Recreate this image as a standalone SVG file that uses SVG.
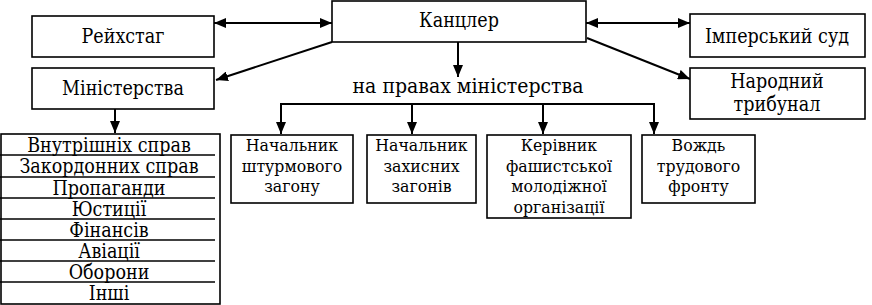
<svg xmlns="http://www.w3.org/2000/svg" width="872" height="305" viewBox="0 0 872 305">
<style>
rect.b{fill:#fff;stroke:#000;stroke-width:1.6}
text{font-family:"DejaVu Serif Condensed","DejaVu Serif",serif;font-stretch:condensed;font-size:19.5px;fill:#000;text-anchor:middle}
text.big{font-size:21px}
text.m{font-size:17.5px}
.c line{stroke:#000;stroke-width:2;fill:none}
.row{stroke:#000;stroke-width:1.5}
</style>
<defs>
<marker id="ah" viewBox="0 0 12 10" refX="12" refY="5" markerWidth="12" markerHeight="10" markerUnits="userSpaceOnUse" orient="auto-start-reverse">
<path d="M0,0 L12,5 L0,10 z" fill="#000"/>
</marker>
</defs>
<rect width="872" height="305" fill="#fff"/>
<g class="c" id="connectors">
<line x1="214" y1="23" x2="332" y2="23" marker-start="url(#ah)" marker-end="url(#ah)"/>
<line x1="586" y1="23" x2="690" y2="23" marker-start="url(#ah)" marker-end="url(#ah)"/>
<line x1="332" y1="42" x2="216" y2="80" marker-end="url(#ah)"/>
<line x1="587" y1="38" x2="690" y2="79" marker-end="url(#ah)"/>
<line x1="458" y1="42" x2="458" y2="77" marker-end="url(#ah)"/>
<line x1="115" y1="109" x2="115" y2="133" marker-end="url(#ah)"/>
<line x1="280" y1="104" x2="655" y2="104"/>
<line x1="281" y1="103" x2="281" y2="134" marker-end="url(#ah)"/>
<line x1="412" y1="103" x2="412" y2="134" marker-end="url(#ah)"/>
<line x1="543" y1="103" x2="543" y2="134" marker-end="url(#ah)"/>
<line x1="654" y1="103" x2="654" y2="134" marker-end="url(#ah)"/>
</g>
<g id="kantsler"><rect class="b" x="332" y="1" width="254" height="41"/><text x="459" y="27">Канцлер</text></g>
<g id="reichstag"><rect class="b" x="32" y="16" width="182" height="41"/><text x="123" y="43">Рейхстаг</text></g>
<g id="ministerstva"><rect class="b" x="32" y="68" width="182" height="41"/><text x="123" y="95">Міністерства</text></g>
<g id="imperskyi-sud"><rect class="b" x="690" y="14" width="175" height="43"/><text x="777" y="43">Імперський суд</text></g>
<g id="narodnyi-trybunal"><rect class="b" x="690" y="68" width="175" height="51"/><text x="777" y="88">Народний</text><text x="777" y="111">трибунал</text></g>
<g id="na-pravakh"><text class="big" x="468" y="93">на правах міністерства</text></g>
<g id="ministries-list">
<rect class="b" x="1" y="134" width="219" height="170"/>
<line class="row" x1="0" y1="155" x2="215" y2="155"/>
<line class="row" x1="0" y1="177" x2="215" y2="177"/>
<line class="row" x1="0" y1="198" x2="215" y2="198"/>
<line class="row" x1="0" y1="219" x2="215" y2="219"/>
<line class="row" x1="0" y1="240" x2="215" y2="240"/>
<line class="row" x1="0" y1="261" x2="215" y2="261"/>
<line class="row" x1="0" y1="282" x2="215" y2="282"/>
<text x="109" y="152">Внутрішніх справ</text>
<text x="109" y="173">Закордонних справ</text>
<text x="109" y="195">Пропаганди</text>
<text x="109" y="216">Юстиції</text>
<text x="109" y="237">Фінансів</text>
<text x="109" y="258">Авіації</text>
<text x="109" y="279">Оборони</text>
<text x="109" y="300">Інші</text>
</g>
<g id="shturm"><rect class="b" x="231" y="135" width="122" height="68"/><text class="m" x="292" y="151">Начальник</text><text class="m" x="292" y="171.5">штурмового</text><text class="m" x="292" y="192">загону</text></g>
<g id="zakhysni"><rect class="b" x="367" y="135" width="109" height="68"/><text class="m" x="421.5" y="151">Начальник</text><text class="m" x="421.5" y="171.5">захисних</text><text class="m" x="421.5" y="192">загонів</text></g>
<g id="molod"><rect class="b" x="487" y="135" width="144" height="83"/><text class="m" x="559" y="151">Керівник</text><text class="m" x="559" y="171.5">фашистської</text><text class="m" x="559" y="192">молодіжної</text><text class="m" x="559" y="212.5">організації</text></g>
<g id="vozhd"><rect class="b" x="642" y="135" width="113" height="68"/><text class="m" x="698.5" y="151">Вождь</text><text class="m" x="698.5" y="171.5">трудового</text><text class="m" x="698.5" y="192">фронту</text></g>
</svg>
